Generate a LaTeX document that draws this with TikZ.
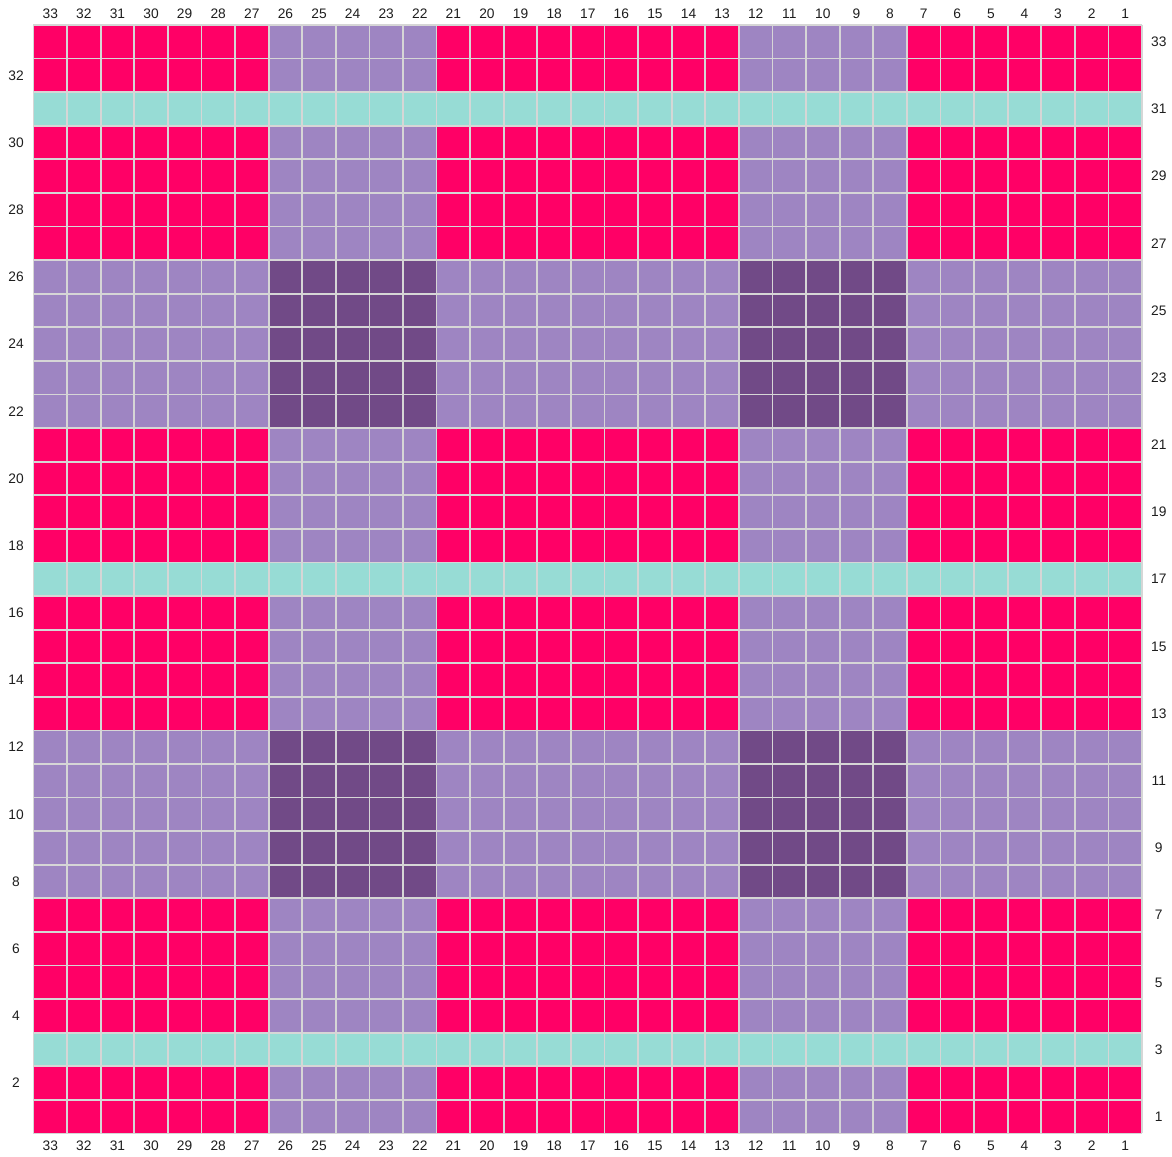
\documentclass[tikz,border=0pt]{standalone}
\usepackage{fontspec}
\setmainfont{Liberation Sans}
\definecolor{Rose}{HTML}{FF0066}
\definecolor{Lilac}{HTML}{9E85C2}
\definecolor{Plum}{HTML}{714A87}
\definecolor{Aqua}{HTML}{97DCD5}
\definecolor{GridLine}{HTML}{D6D6D6}
\definecolor{Ink}{HTML}{1E1E1E}
\newcommand{\colband}[2]{%
  \fill[Lilac] (#1,0) rectangle (#2,33);
}
\newcommand{\rowband}[3]{%
  \fill[#3] (0,#1) rectangle (33,#2);
}
\tikzset{num/.style={font=\fontsize{7}{8}\selectfont,text=Ink,inner sep=0pt}}

\begin{document}
\begin{tikzpicture}[x=0.6cm,y=0.6cm]
      \useasboundingbox (-0.997,-0.670) rectangle (33.893,33.744);
      \fill[Rose] (0,0) rectangle (33,33);
      \colband{7}{12}
      \colband{21}{26}
      \rowband{7}{12}{Lilac}
      \rowband{21}{26}{Lilac}
      \foreach \x in {7,21}{
        \foreach \y in {7,21}{
          \fill[Plum] (\x,\y) rectangle ++(5,5);
        }
      }
      \foreach \y in {2,16,30}{
        \rowband{\y}{\y+1}{Aqua}
      }
      \draw[GridLine,line width=0.9pt,step=1] (0,0) grid (33,33);
      \foreach \c in {1,...,33}{
        \node[num] (top\c) at ({33.5-\c},33.33) {\c};
        \node[num] (bot\c) at ({33.5-\c},-0.37) {\c};
      }
      \foreach \r in {2,4,...,32}{
        \node[num] (left\r) at (-0.52,\r-0.5) {\r};
      }
      \foreach \r in {1,3,...,33}{
        \node[num] (right\r) at (33.5,\r-0.5) {\r};
      }
    \end{tikzpicture}
\end{document}
